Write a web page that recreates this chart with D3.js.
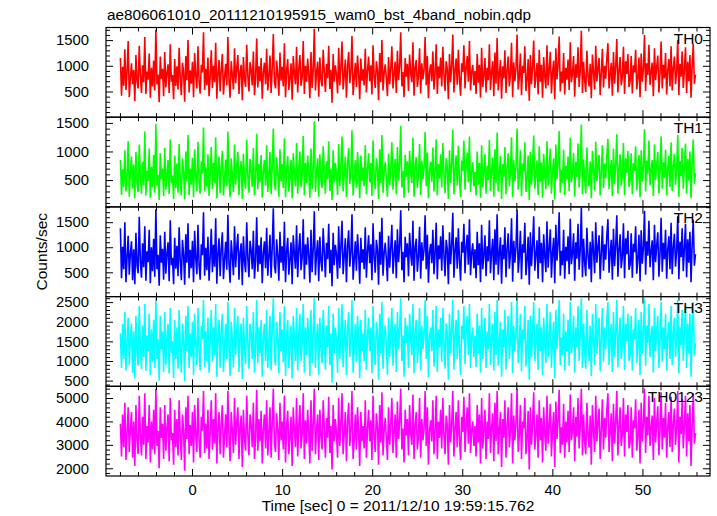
<!DOCTYPE html>
<html><head><meta charset="utf-8">
<script src="https://cdn.jsdelivr.net/npm/d3@7"></script>
<style>body{margin:0;background:#fff}svg{display:block}</style>
</head><body><svg id="c" width="717" height="516"></svg>
<script>
// ---- data (counts/sec per 0.123 s bin, read/estimated from the picture) ----
const th0 = [
1150,420,980,610,1320,530,870,1480,390,760,1050,640,920,310,1210,700,560,1390,820,470,
1010,680,1560,450,890,730,1240,380,960,600,1100,520,1700,640,830,290,1180,750,940,410,
1270,580,860,1030,470,1420,690,820,350,1130,610,990,540,1350,760,430,1060,880,300,1190,
720,1500,480,910,650,1080,390,1250,800,560,1380,700,460,1020,870,1650,530,940,620,1160,
410,790,1300,570,1000,680,1450,360,850,1110,500,930,1230,440,780,1040,620,1560,710,380,
1090,820,540,1340,660,960,1210,450,870,1020,330,1170,740,590,1410,800,500,1070,910,620,
1280,430,760,1530,580,990,700,1150,360,880,1060,640,1330,520,810,1200,470,950,1620,690,
560,1100,830,420,1260,710,980,600,1440,390,900,1130,530,760,1050,340,1190,860,640,1370,
480,940,1210,610,780,1480,450,1000,690,1140,820,370,1270,570,930,1720,520,870,1080,400,
1160,730,600,1310,880,490,1040,760,1390,550,920,280,1230,690,1010,830,460,1350,620,980,
1470,540,810,1120,380,990,1270,660,870,1580,430,750,1060,590,1200,850,350,1140,710,930,
620,1330,480,900,1180,700,1010,440,1400,800,570,1090,920,330,1250,680,1500,520,860,1030,
760,410,1170,640,950,1380,560,830,1080,470,1290,720,990,1650,600,880,390,1150,790,1040,
510,1220,850,680,1460,420,970,1110,590,800,1340,460,1050,740,910,1560,620,1190,370,880,
1030,700,1280,540,860,1420,450,990,760,1160,600,1370,830,510,1090,940,350,1230,680,1010,
1610,480,900,1140,630,1310,750,420,1050,880,1400,560,960,1190,690,1480,520,870,1020,620,
900,450,1230,670,1020,380,1350,590,810,1150,480,960,720,1420,530,880,1090,410,1260,650,
1540,520,840,1110,360,990,760,1300,470,920,1180,600,830,1450,390,1070,700,950,1610,540,
780,1240,430,1000,860,1380,510,730,1130,320,1210,640,980,1490,570,820,1060,440,1310,690,
1020,380,1170,800,560,1400,620,930,1270,460,870,1100,350,1340,740,1010,1570,500,890,660,
1250,440,960,730,1120,530,1460,680,850,1190,400,1030,770,1360,590,910,1680,470,1080,720,
490,1290,810,600,1040,370,1220,880,540,1390,700,950,1150,430,860,1330,580,1000,750,1140,
1440,560,830,1060,420,1270,650,980,1520,480,900,1170,620,790,1370,450,1090,840,1230,590,
700,1190,460,1010,870,1310,540,760,1160,390,1240,690,930,1600,510,1050,820,1410,630,880,
1060,410,1340,720,980,1200,480,850,1470,560,1020,760,1250,440,910,1130,600,1380,520,960,
1180,640,890,1500,430,1040,790,1280,570,940,1360,470,1080,700,1210,380,990,1430,650,830];
const th1 = [
850,240,690,380,1020,300,560,1180,210,640,910,350,770,180,990,450,290,1120,600,260,
820,410,1350,230,660,480,1050,190,730,370,940,280,1480,400,590,150,970,520,700,220,
1060,330,620,850,250,1210,440,580,170,930,360,790,280,1130,500,230,880,640,160,1000,
470,1290,240,700,420,890,200,1040,560,310,1170,460,260,830,610,1420,300,720,380,950,
220,570,1080,340,800,450,1250,180,620,910,270,740,1010,230,550,860,390,1350,480,200,
880,590,290,1120,420,760,990,240,650,830,170,960,510,350,1200,570,280,870,690,380,
1060,230,540,1310,340,780,460,940,190,660,850,400,1110,290,590,990,250,730,1400,450,
320,900,610,210,1040,470,780,360,1230,200,680,920,300,540,850,180,970,630,390,1150,
260,720,1000,370,560,1270,230,800,450,930,600,190,1050,340,710,1530,290,650,880,210,
950,500,360,1090,660,260,830,520,1180,310,700,150,1020,460,800,610,240,1130,390,770,
1260,300,590,910,200,780,1060,430,640,1370,230,520,850,360,990,620,180,930,480,720,
390,1110,250,680,970,460,800,220,1190,570,340,880,700,170,1040,450,1290,280,640,820,
530,210,960,410,730,1160,330,610,870,250,1080,490,780,1450,370,660,190,940,560,830,
280,1010,630,450,1240,210,750,900,360,580,1130,240,840,510,690,1340,390,980,180,660,
820,470,1070,300,640,1210,230,780,530,950,370,1150,610,270,880,720,170,1020,450,800,
1380,250,680,930,400,1100,520,200,840,660,1190,330,740,980,460,1260,290,650,810,390,
640,230,1000,420,800,190,1110,370,610,950,260,750,500,1200,310,680,890,210,1040,440,
1330,300,630,920,170,780,560,1080,250,710,970,390,620,1250,200,850,480,740,1400,330,
570,1020,220,790,650,1160,290,520,930,150,990,420,770,1280,350,600,840,240,1090,470,
810,190,960,580,340,1180,400,720,1050,260,660,880,160,1120,520,790,1360,280,680,450,
1030,240,750,510,910,310,1240,460,640,970,210,820,550,1140,370,700,1470,250,860,500,
270,1070,600,390,830,180,1010,670,320,1170,480,740,940,230,650,1110,360,790,530,920,
1220,340,620,850,220,1050,430,770,1300,260,690,950,400,580,1150,240,880,630,1010,380,
480,970,250,800,660,1090,320,540,940,200,1020,470,720,1390,300,840,610,1190,410,670,
850,220,1120,500,760,990,270,640,1260,350,810,540,1030,230,700,920,380,1160,310,750,
960,420,680,1290,210,830,570,1060,350,730,1140,260,870,490,1000,180,780,1210,430,620];
const th2 = [
1380,380,1010,560,1500,300,790,1230,450,880,1120,340,960,260,1290,640,480,1610,720,390,
1080,600,1420,330,920,700,1350,280,1000,520,1170,410,1760,560,850,230,1240,690,970,350,
1310,470,880,1100,320,1540,640,790,260,1190,570,1030,420,1400,730,340,1150,860,250,1260,
690,1480,380,950,580,1130,300,1330,770,460,1450,650,350,1060,840,1700,430,990,540,1210,
330,800,1370,500,1050,610,1580,270,870,1180,420,980,1300,360,760,1110,550,1650,680,290,
1140,820,440,1420,600,1010,1270,350,900,1080,240,1220,710,500,1500,780,400,1130,930,560,
1330,370,740,1600,510,1040,660,1200,280,890,1120,580,1390,430,820,1250,390,990,1780,640,
480,1160,840,330,1310,690,1020,530,1510,300,930,1190,450,760,1100,260,1240,880,570,1440,
400,970,1280,540,790,1560,360,1060,650,1200,830,290,1350,500,960,1720,440,880,1140,320,
1210,720,520,1380,900,400,1090,760,1470,480,950,220,1290,640,1050,850,370,1420,580,1020,
1530,460,830,1180,300,1030,1340,610,890,1660,350,750,1120,530,1260,870,270,1190,690,960,
560,1400,390,920,1240,680,1060,340,1480,810,490,1150,950,250,1310,650,1590,430,880,1090,
770,320,1230,590,990,1450,470,850,1140,380,1360,700,1030,1740,540,910,300,1210,800,1080,
420,1290,870,630,1530,330,1000,1170,510,820,1410,370,1100,730,940,1640,560,1250,290,900,
1070,680,1350,460,880,1490,360,1040,760,1220,530,1440,850,420,1150,970,260,1300,660,1050,
1690,390,930,1200,570,1380,740,330,1110,890,1470,480,1000,1250,650,1560,440,890,1080,580,
960,380,1310,640,1080,300,1450,560,850,1240,420,1020,720,1540,480,910,1170,340,1360,650,
1660,450,880,1200,270,1050,760,1400,400,970,1280,570,860,1580,310,1130,690,1000,1750,490,
800,1330,360,1060,890,1490,440,740,1210,250,1300,620,1030,1620,530,860,1140,370,1410,680,
1090,300,1260,830,500,1520,590,980,1360,390,900,1190,280,1450,730,1070,1700,430,930,640,
1350,370,1010,720,1220,460,1570,660,880,1280,330,1100,770,1470,550,950,1790,400,1170,700,
420,1390,840,560,1110,300,1320,920,480,1500,690,1000,1240,360,890,1430,530,1060,750,1230,
1560,490,870,1150,350,1370,620,1030,1640,410,950,1260,580,810,1480,380,1180,860,1330,550,
660,1280,390,1070,900,1420,470,760,1250,320,1340,670,980,1730,450,1120,830,1530,600,920,
1140,340,1450,700,1040,1300,410,880,1590,510,1090,760,1350,370,960,1220,560,1490,460,1010,
1270,610,930,1620,360,1110,800,1380,520,990,1470,400,1160,690,1310,300,1050,1550,630,860];
const th3 = [
1700,820,1950,1050,2250,760,1480,2100,900,1600,1950,700,1750,560,2150,1200,880,2400,1350,790,
1900,1100,2450,750,1650,1250,2200,640,1800,980,2050,820,2600,1050,1550,500,2150,1300,1750,720,
2250,900,1600,1950,680,2350,1200,1500,560,2050,1050,1850,800,2300,1350,700,1950,1550,480,2150,
1250,2400,820,1700,1100,2000,650,2200,1450,900,2350,1250,760,1900,1550,2550,850,1750,1000,2100,
700,1500,2300,980,1850,1150,2450,600,1600,2050,830,1750,2200,720,1400,1950,1050,2500,1300,620,
2000,1550,850,2350,1150,1800,2150,720,1650,1950,540,2100,1300,920,2400,1450,800,1950,1700,1050,
2250,700,1350,2550,950,1850,1200,2050,600,1600,1950,1000,2300,820,1500,2150,760,1800,2600,1150,
880,2000,1550,680,2250,1250,1800,960,2400,620,1650,2050,820,1400,1900,560,2150,1600,1000,2350,
760,1700,2200,1000,1450,2450,700,1850,1150,2100,1500,620,2300,940,1700,2600,820,1600,1950,650,
2100,1300,950,2300,1600,780,1900,1350,2400,900,1700,450,2200,1200,1850,1500,700,2350,1050,1800,
2450,850,1500,2050,640,1800,2250,1100,1600,2550,700,1350,1950,980,2150,1550,560,2050,1250,1700,
1000,2300,780,1650,2100,1250,1850,680,2400,1450,900,2000,1700,520,2200,1200,2500,800,1600,1900,
1400,650,2100,1100,1750,2350,880,1550,1950,720,2250,1300,1800,2600,1000,1650,600,2100,1450,1900,
820,2200,1550,1150,2450,680,1750,2050,950,1450,2350,760,1900,1300,1650,2550,1050,2150,580,1600,
1850,1250,2300,860,1550,2400,720,1800,1350,2100,980,2350,1500,800,1950,1700,520,2200,1200,1800,
2550,780,1650,2050,1050,2300,1350,640,1900,1550,2400,920,1750,2150,1150,2450,820,1600,1850,1100,
1650,850,2200,1200,1900,700,2350,1050,1500,2100,820,1750,1300,2450,900,1600,1950,760,2250,1150,
2550,880,1500,2000,600,1800,1350,2300,780,1650,2150,1050,1500,2500,680,1900,1250,1700,2600,950,
1400,2200,740,1800,1550,2400,860,1300,2050,520,2150,1100,1750,2500,1000,1450,1950,780,2350,1250,
1850,640,2100,1400,950,2450,1100,1650,2250,820,1550,2000,560,2300,1300,1800,2550,900,1600,1150,
2200,760,1750,1250,2050,880,2500,1200,1500,2150,700,1850,1350,2400,1000,1650,2600,820,1950,1250,
800,2300,1450,1000,1900,620,2200,1550,900,2450,1200,1750,2100,740,1550,2350,980,1850,1300,2050,
2500,900,1500,1950,720,2250,1100,1750,2550,840,1650,2100,1050,1400,2400,780,1950,1500,2200,1000,
1150,2150,760,1800,1550,2350,950,1350,2050,640,2250,1200,1700,2600,880,1900,1450,2450,1100,1600,
1900,700,2350,1250,1750,2150,820,1500,2500,980,1850,1300,2200,760,1650,2000,1050,2400,900,1700,
2100,1100,1600,2550,680,1850,1400,2300,1000,1750,2400,820,1950,1200,2200,600,1700,2500,1150,1450];
const th0123 = [
3900,2500,4300,2900,4800,2350,3500,4600,2700,3700,4400,2450,4000,2100,4700,3200,2600,5100,3400,2550,
4200,3000,5200,2400,3800,3100,4700,2250,4000,2800,4500,2600,5400,2950,3600,2000,4600,3300,3900,2400,
4700,2750,3700,4300,2300,5000,3200,3500,2150,4500,2900,4100,2550,4900,3400,2350,4300,3600,1900,4600,
3250,5100,2600,3850,2950,4400,2250,4700,3450,2700,5000,3200,2450,4200,3600,5300,2650,3900,2850,4500,
2400,3500,4900,2800,4100,3050,5200,2200,3700,4400,2600,3950,4700,2450,3400,4300,2900,5300,3300,2300,
4400,3600,2650,5000,3000,4000,4600,2400,3750,4250,2050,4500,3250,2750,5100,3450,2550,4300,3850,2900,
4800,2400,3300,5350,2750,4100,3150,4450,2200,3700,4300,2850,4900,2550,3550,4600,2450,3950,5400,3050,
2700,4350,3600,2350,4800,3200,4000,2800,5100,2250,3800,4450,2600,3350,4200,2100,4600,3650,2900,5000,
2500,3850,4700,2850,3450,5200,2400,4050,3050,4500,3500,2200,4900,2750,3900,5400,2600,3650,4300,2350,
4500,3350,2800,4900,3700,2450,4150,3300,5050,2650,3800,1950,4700,3150,4100,3500,2450,5000,2950,3950,
5200,2600,3500,4400,2300,4000,4800,2950,3650,5300,2400,3250,4300,2800,4600,3550,2100,4400,3150,3800,
2850,4900,2450,3700,4500,3150,4050,2350,5100,3400,2700,4350,3800,2150,4700,3100,5250,2550,3650,4150,
3300,2350,4600,3000,3900,5000,2650,3550,4300,2450,4850,3250,4000,5400,2800,3700,2250,4500,3400,4100,
2550,4700,3500,3000,5150,2400,3850,4400,2800,3350,5000,2450,4100,3200,3650,5300,2950,4600,2150,3600,
4050,3150,4900,2600,3550,5100,2400,4000,3300,4500,2850,5000,3450,2600,4250,3850,2150,4700,3100,3900,
5300,2500,3700,4400,2900,4900,3300,2350,4200,3550,5050,2700,3800,4600,3050,5200,2650,3600,4000,2950,
3800,2500,4700,3100,4300,2200,5000,2850,3600,4500,2400,4000,3250,5200,2650,3750,4350,2300,4800,3150,
5300,2600,3650,4400,2050,4100,3300,4900,2450,3850,4600,2900,3550,5200,2200,4250,3200,3900,5400,2700,
3400,4700,2400,4000,3700,5000,2600,3300,4450,1950,4600,3000,3950,5250,2800,3500,4300,2450,4900,3200,
4150,2250,4600,3450,2750,5100,3050,3800,4750,2500,3650,4400,2050,4850,3250,4050,5350,2650,3750,3000,
4750,2450,4000,3100,4450,2700,5150,3200,3650,4600,2300,4200,3350,5000,2850,3800,5400,2550,4300,3100,
2600,4800,3500,2900,4250,2150,4700,3650,2700,5100,3150,3950,4550,2400,3600,4950,2800,4150,3300,4500,
5200,2700,3550,4350,2300,4750,3050,3950,5300,2550,3800,4600,2950,3450,5000,2500,4300,3550,4700,2850,
3100,4600,2450,4050,3700,4950,2750,3350,4500,2200,4800,3150,3900,5400,2650,4200,3400,5100,2950,3750,
4250,2350,5000,3100,3950,4650,2550,3600,5250,2800,4150,3300,4800,2450,3750,4400,2900,5050,2700,3900,
4550,3000,3700,5300,2250,4200,3450,4950,2850,3850,5100,2500,4350,3150,4700,2100,3850,5200,3050,3500];

const panelNames = ["TH0","TH1","TH2","TH3","TH0123"];
const panelColors = ["#ff0000","#00ff00","#0000ff","#00ffff","#ff00ff"];
const yDomains = [[0,1745],[30,1600],[15,1805],[355,2640],[1670,5500]];
const yMajorTicks = [[500,1000,1500],[500,1000,1500],[500,1000,1500],[500,1000,1500,2000,2500],[2000,3000,4000,5000]];
const yMinorStep = [100,100,100,100,200];
const xMajorTicks = [0,10,20,30,40,50];
const xMinorStep = 2;
const tStart = -7.95, binSize = 0.123;
const titleText = "ae806061010_20111210195915_wam0_bst_4band_nobin.qdp";
const xLabel = "Time [sec] 0 = 2011/12/10 19:59:15.762";
const yLabel = "Counts/sec";

// ---- layout ----
const series = [th0, th1, th2, th3, th0123];
const L = 106, R = 710, T = 27.5, B = 476;
const ph = (B - T) / 5;
const FONT = "'Liberation Sans', Arial, Helvetica, sans-serif";

const svg = d3.select("#c").style("font-family", FONT);
svg.append("rect").attr("width",717).attr("height",516).attr("fill","#fff");

const x = d3.scaleLinear().domain([-9.55, 57.5]).range([L, R]);
const xMinor = d3.range(-8, 58, xMinorStep).filter(v => v % 10 !== 0);
const fmt = d3.format("d");

svg.append("text").attr("x", 107).attr("y", 19.5)
  .attr("font-size", "15.3px").attr("fill","#000").text(titleText);

series.forEach((vals, k) => {
  const top = T + k * ph, bot = top + ph;
  const y = d3.scaleLinear().domain(yDomains[k]).range([bot, top]);
  const g = svg.append("g");
  const cid = "clip" + k;
  svg.append("clipPath").attr("id", cid).append("rect")
    .attr("x", L).attr("y", top).attr("width", R - L).attr("height", ph);

  const line = d3.line()
    .x((d, i) => x(tStart + i * binSize))
    .y(d => y(d));
  g.append("path").datum(vals)
    .attr("clip-path", `url(#${cid})`)
    .attr("fill", "none").attr("stroke", panelColors[k])
    .attr("stroke-width", 1.6).attr("stroke-linejoin","bevel").attr("d", line);

  const [d0, d1] = yDomains[k];
  const minor = d3.range(Math.ceil(d0 / yMinorStep[k]) * yMinorStep[k], d1, yMinorStep[k])
    .filter(v => !yMajorTicks[k].includes(v));

  const styleAx = sel => { sel.select(".domain").remove(); sel.selectAll("line").attr("stroke","#000").attr("stroke-width",1); };

  g.append("g").attr("transform", `translate(${L},0)`)
    .call(d3.axisLeft(y).tickValues(yMajorTicks[k]).tickSizeInner(-7).tickSizeOuter(0).tickPadding(17).tickFormat(fmt))
    .call(styleAx)
    .call(s => s.selectAll("text").attr("font-size","14.8px").attr("fill","#000").attr("font-family",FONT));
  g.append("g").attr("transform", `translate(${L},0)`)
    .call(d3.axisLeft(y).tickValues(minor).tickSizeInner(-4).tickSizeOuter(0).tickFormat(""))
    .call(styleAx);
  g.append("g").attr("transform", `translate(${R},0)`)
    .call(d3.axisRight(y).tickValues(yMajorTicks[k]).tickSizeInner(-7).tickSizeOuter(0).tickFormat(""))
    .call(styleAx);
  g.append("g").attr("transform", `translate(${R},0)`)
    .call(d3.axisRight(y).tickValues(minor).tickSizeInner(-4).tickSizeOuter(0).tickFormat(""))
    .call(styleAx);
  g.append("g").attr("transform", `translate(0,${top})`)
    .call(d3.axisTop(x).tickValues(xMajorTicks).tickSizeInner(-7).tickSizeOuter(0).tickFormat(""))
    .call(styleAx);
  g.append("g").attr("transform", `translate(0,${top})`)
    .call(d3.axisTop(x).tickValues(xMinor).tickSizeInner(-4).tickSizeOuter(0).tickFormat(""))
    .call(styleAx);
  g.append("g").attr("transform", `translate(0,${bot})`)
    .call(d3.axisBottom(x).tickValues(xMajorTicks).tickSizeInner(-7).tickSizeOuter(0)
      .tickFormat(k === 4 ? fmt : "").tickPadding(8))
    .call(styleAx)
    .call(s => s.selectAll("text").attr("font-size","14.8px").attr("fill","#000").attr("font-family",FONT));
  g.append("g").attr("transform", `translate(0,${bot})`)
    .call(d3.axisBottom(x).tickValues(xMinor).tickSizeInner(-4).tickSizeOuter(0).tickFormat(""))
    .call(styleAx);

  g.append("rect").attr("x", L).attr("y", top).attr("width", R - L).attr("height", ph)
    .attr("fill","none").attr("stroke","#000").attr("stroke-width",1.2);

  g.append("text").attr("x", 703).attr("y", top + 16).attr("text-anchor","end")
    .attr("font-size","15.5px").attr("fill","#000").text(panelNames[k]);
});

svg.append("text").attr("x", 398).attr("y", 511).attr("text-anchor","middle")
  .attr("font-size","15.5px").attr("fill","#000").text(xLabel);
svg.append("text").attr("transform", `translate(47,${(T + B) / 2}) rotate(-90)`)
  .attr("text-anchor","middle").attr("font-size","15.5px").attr("fill","#000").text(yLabel);
</script>
</body></html>
